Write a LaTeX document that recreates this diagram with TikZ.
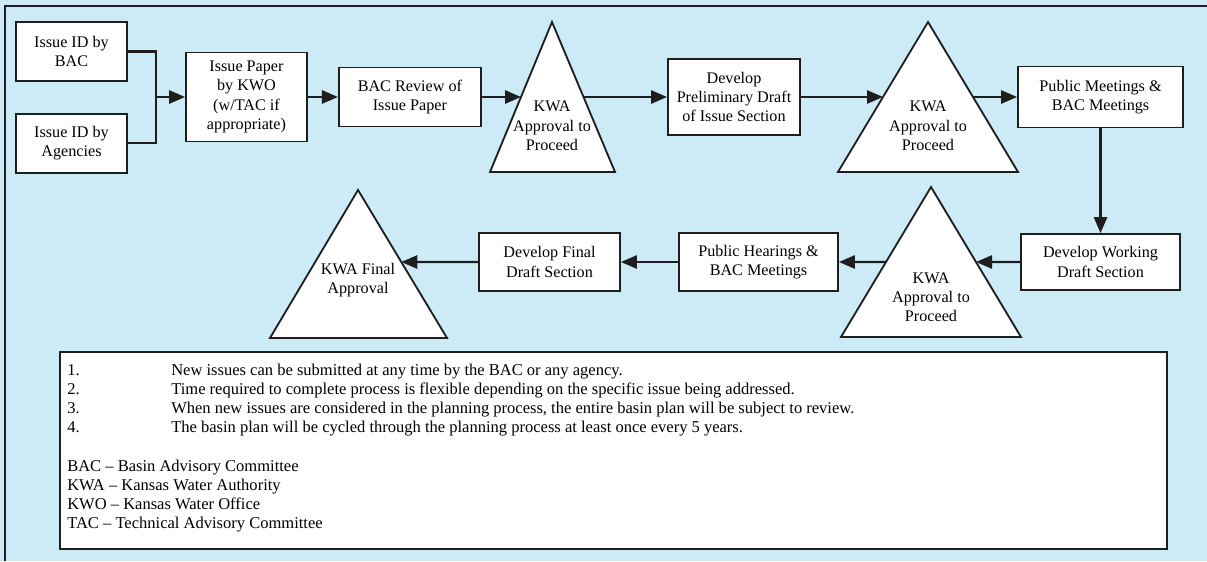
\documentclass[tikz,border=0pt]{standalone}
\usepackage{fontspec}
\setmainfont{Liberation Serif}
\usetikzlibrary{positioning,calc,arrows.meta}
\definecolor{paper}{RGB}{204,235,246}
\definecolor{ink}{RGB}{30,30,30}
\tikzset{box/.style={draw=ink, line width=1.3pt, fill=white, align=center, inner sep=2pt,
                     font=\fontsize{11.5}{13.7}\selectfont},
         tri/.style={draw=ink, line width=1.3pt, fill=white, line join=miter},
         tritext/.style={align=center, font=\fontsize{11.5}{13.7}\selectfont},
         flow/.style={draw=ink, line width=1.5pt, -{Triangle[length=0.4cm,width=0.33cm]}},
         link/.style={draw=ink, line width=1.5pt},
         note/.style={anchor=base west, inner sep=0pt, font=\fontsize{11.75}{14}\selectfont}}

\begin{document}
\begin{tikzpicture}[x=0.025cm,y=-0.025cm]
\fill[paper] (0,0) rectangle (1207,561);
\useasboundingbox (0,0) rectangle (1207,561);
\draw[ink, line width=1pt] (5,561) -- (5,6) -- (1207,6);

% top row
\node[box, minimum width=2.775cm, minimum height=1.475cm] (bac) at (71.5,51.5) {Issue ID by\\BAC};
\node[box, minimum width=2.775cm, minimum height=1.475cm] (agency) [below=0.775cm of bac] {Issue ID by\\Agencies};
\node[box, minimum width=3.025cm, minimum height=2.225cm] (paper) at (246.5,97) {Issue Paper\\by KWO\\(w/TAC if\\appropriate)};
\node[box, minimum width=3.55cm, minimum height=1.475cm] (review) [right=0.75cm of paper] {BAC Review of\\Issue Paper};
\node[box, minimum width=3.3cm, minimum height=1.9cm] (prelim) at (734,97) {Develop\\Preliminary Draft\\of Issue Section};
\node[box, minimum width=4.125cm, minimum height=1.525cm] (pubmeet) at (1100.5,97) {Public Meetings \&\\BAC Meetings};

% bottom row
\node[box, minimum width=3.975cm, minimum height=1.4cm] (working) at (1100.5,262) {Develop Working\\Draft Section};
\node[box, minimum width=3.975cm, minimum height=1.45cm] (hearing) at (758.5,262) {Public Hearings \&\\BAC Meetings};
\node[box, minimum width=3.525cm, minimum height=1.45cm] (final) at (549.5,262) {Develop Final\\Draft Section};

% approval triangles
\draw[tri] (552,22) coordinate (t1a) -- (615,172) coordinate (t1r) -- (490,172) coordinate (t1l) -- cycle;
\draw[tri] (928,22) coordinate (t2a) -- (1018,172) coordinate (t2r) -- (838,172) coordinate (t2l) -- cycle;
\draw[tri] (931,187) coordinate (t3a) -- (1021,337) coordinate (t3r) -- (841,337) coordinate (t3l) -- cycle;
\draw[tri] (358,190) coordinate (t4a) -- (447,338) coordinate (t4r) -- (270,338) coordinate (t4l) -- cycle;
\node[tritext] (kwa1) at (552,126) {KWA\\Approval to\\Proceed};
\node[tritext] (kwa2) at (928,126) {KWA\\Approval to\\Proceed};
\node[tritext] (kwa3) at (931,297) {KWA\\Approval to\\Proceed};
\node[tritext] (kwa4) at (358,280) {KWA Final\\Approval};
\coordinate (t1in) at ($(t1a)!0.5!(t1l)$);
\coordinate (t1out) at ($(t1a)!0.5!(t1r)$);
\coordinate (t2in) at ($(t2a)!0.5!(t2l)$);
\coordinate (t2out) at ($(t2a)!0.5!(t2r)$);
\coordinate (t3in) at ($(t3a)!0.5!(t3r)$);
\coordinate (t3out) at ($(t3a)!0.5!(t3l)$);
\coordinate (t4in) at ($(t4a)!0.4865!(t4r)$);
\coordinate (join) at (156,97);

% connectors
\draw[link] (bac.east) -| (join);
\draw[link] (agency.east) -| (join);
\draw[flow] (join) -- (paper.west);
\draw[flow] (paper.east) -- (review.west);
\draw[flow] (review.east) -- (t1in);
\draw[flow] (t1out) -- (prelim.west);
\draw[flow] (prelim.east) -- (t2in);
\draw[flow] (t2out) -- (pubmeet.west);
\draw[flow] (pubmeet.south) -- (pubmeet.south |- working.north);
\draw[flow] (working.west) -- (t3in);
\draw[flow] (t3out) -- (hearing.east);
\draw[flow] (hearing.west) -- (final.east);
\draw[flow] (final.west) -- (t4in);

% notes
\node[draw=ink, line width=1.3pt, fill=white, minimum width=27.675cm, minimum height=4.925cm] (notes) at (613.5,450.5) {};
\foreach \n/\txt in {1/New issues can be submitted at any time by the BAC or any agency.,
                     2/Time required to complete process is flexible depending on the specific issue being addressed.,
                     3/{When new issues are considered in the planning process, the entire basin plan will be subject to review.},
                     4/The basin plan will be cycled through the planning process at least once every 5 years.}
{
  \node[note] (num\n) at (67,356+19*\n) {\n.};
  \node[note] (line\n) at (171,356+19*\n) {\txt};
}
\foreach \k/\abbr in {1/BAC -- Basin Advisory Committee,
                      2/KWA -- Kansas Water Authority,
                      3/KWO -- Kansas Water Office,
                      4/TAC -- Technical Advisory Committee}
  \node[note] (abbr\k) at (67,452+19*\k) {\abbr};
\end{tikzpicture}
\end{document}
